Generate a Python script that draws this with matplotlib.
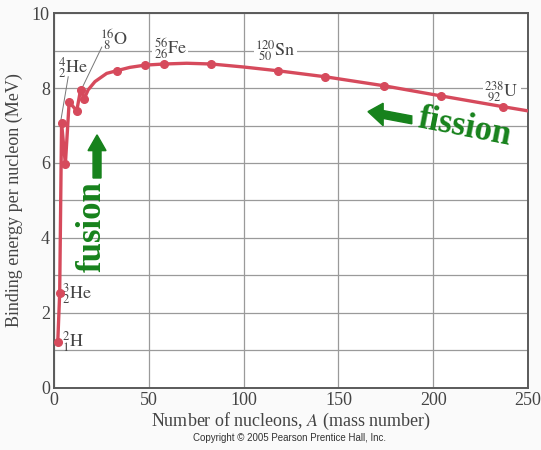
import matplotlib
matplotlib.use("Agg")
import matplotlib.pyplot as plt
from matplotlib.patches import FancyArrow

# Data
mass_A = [2, 3, 4, 6, 8, 12, 14, 16, 33, 48, 58, 83, 118, 143, 174, 204, 237]
bind_E = [1.23, 2.53, 7.07, 5.97, 7.63, 7.39, 7.95, 7.72, 8.46, 8.61, 8.64, 8.64,
          8.46, 8.30, 8.06, 7.79, 7.50]
# Curve path
curve_A = [2, 3, 4, 6, 8, 12, 14, 16, 18, 21.6, 27.8, 33, 40, 48, 58, 70, 83, 100,
           118, 143, 174, 204, 237, 250]
curve_E = [1.23, 2.53, 7.07, 5.97, 7.63, 7.39, 7.95, 7.72, 7.95, 8.17, 8.39, 8.46,
           8.55, 8.61, 8.64, 8.66, 8.64, 8.56, 8.46, 8.30, 8.06, 7.79, 7.50, 7.39]

x_ticks = [0, 50, 100, 150, 200, 250]
y_ticks = [0, 2, 4, 6, 8, 10]

nuclide_labels = [r"$^{2}_{1}\mathrm{H}$", r"$^{3}_{2}\mathrm{He}$", r"$^{4}_{2}\mathrm{He}$",
                  r"$^{16}_{\ 8}\mathrm{O}$", r"$^{56}_{26}\mathrm{Fe}$",
                  r"$^{120}_{\ 50}\mathrm{Sn}$", r"$^{238}_{\ 92}\mathrm{U}$"]
label_pos = [(4.2, 1.23), (4.2, 2.53), (1.9, 8.55), (24.5, 9.3), (52.5, 9.05),
             (106, 9.0), (227, 7.9)]

plt.rcParams['font.family'] = ['Liberation Serif', 'DejaVu Serif']
plt.rcParams['mathtext.fontset'] = 'stix'

red = '#d64a5c'
green = '#17821c'
txt = '#444444'

fig = plt.figure(figsize=(5.41, 4.50), dpi=100, facecolor='#fafafa')
ax = fig.add_axes([0.0998, 0.1378, 0.8762, 0.8333])
ax.set_facecolor('white')

ax.set_xlim(0, 250)
ax.set_ylim(0, 10)
ax.set_xticks(x_ticks)
ax.set_yticks(y_ticks)
ax.set_yticks(range(0, 11), minor=True)
ax.grid(True, which='both', color='#9a9a9a', lw=0.9)
ax.set_axisbelow(True)
ax.tick_params(which='both', length=0, labelsize=13, labelcolor=txt, pad=3)
for s in ax.spines.values():
    s.set_color('#5a5a5a')
    s.set_linewidth(1.4)

ax.plot(curve_A, curve_E, color=red, lw=2.4, solid_capstyle='round', zorder=6)
ax.plot(mass_A, bind_E, 'o', color=red, ms=5.5, zorder=7)

ax.set_xlabel(r"Number of nucleons, $\mathit{A}$ (mass number)", fontsize=13,
              color=txt, labelpad=1)
ax.set_ylabel("Binding energy per nucleon (MeV)", fontsize=13, color=txt, labelpad=6)

for i, (lab, (x, y)) in enumerate(zip(nuclide_labels, label_pos)):
    bbox = None
    if i in (4, 5, 6):
        bbox = dict(facecolor='white', edgecolor='none', pad=1)
    ax.text(x, y, lab, fontsize=13, color=txt, ha='left', va='center', bbox=bbox, zorder=5)

# leader lines
ax.plot([3.5, 7.5], [7.1, 8.3], color='#777777', lw=0.7, zorder=2)
ax.plot([15.1, 25.2], [8.03, 9.09], color='#777777', lw=0.7, zorder=2)

# fusion arrow + text
ax.add_patch(FancyArrow(22.7, 5.6, 0, 1.15, width=4.2, head_width=9.5,
                        head_length=0.42, length_includes_head=True,
                        color=green, zorder=5))
ax.text(20.0, 4.3, "fusion", rotation=90, fontsize=25, fontweight='bold',
        color=green, ha='center', va='center', zorder=5)

# fission arrow + text
ax.add_patch(FancyArrow(188.7, 7.15, -23.1, 0.22, width=0.21, head_width=0.6,
                        head_length=8.0, length_includes_head=True,
                        color=green, zorder=5))
ax.text(216.5, 6.93, "fission", rotation=-11, fontsize=25, fontweight='bold',
        color=green, ha='center', va='center', zorder=5)

fig.text(0.536, 0.026, "Copyright \u00a9 2005 Pearson Prentice Hall, Inc.",
         fontsize=7, family='Liberation Sans', color='#333333', ha='center', va='center')

fig.savefig("out.png", dpi=100, facecolor=fig.get_facecolor())
